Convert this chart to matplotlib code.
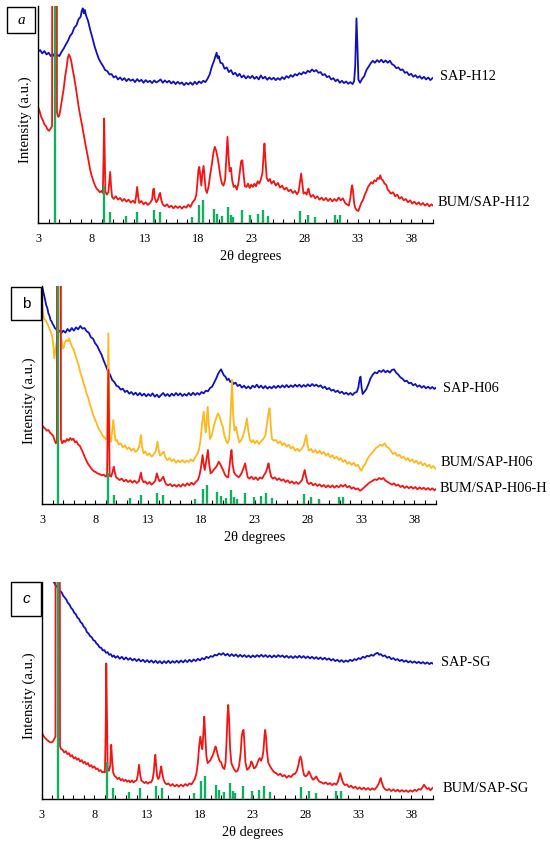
import matplotlib
matplotlib.use("Agg")
import matplotlib.pyplot as plt
from matplotlib.patches import Rectangle
from matplotlib.ticker import MultipleLocator

W, H = 550, 843
OFF = 3000  # off-scale (clipped) peak value

# ---------------- Panel a : (2theta, intensity) ----------------
a_sap = [(3.0,513),(3.2,518),(3.4,508),(3.6,515),(3.8,505),(4.0,510),(4.2,500),(4.4,506),(4.6,496),(4.8,504),(5.0,500),
(5.2,512),(5.4,522),(5.6,534),(5.8,545),(6.0,560),(6.2,568),(6.4,585),(6.6,592),(6.8,610),(7.0,618),(7.1,635),(7.2,643),
(7.3,628),(7.4,638),(7.5,622),(7.7,605),(7.9,578),(8.1,555),(8.3,530),(8.5,510),(8.7,492),(8.9,480),(9.1,470),(9.3,458),
(9.5,455),(9.7,445),(9.9,446),(10.1,436),(10.3,440),(10.5,430),(10.7,436),(10.9,428),(11.1,434),(11.3,425),(11.5,432),
(11.7,426),(11.9,430),(12.1,422),(12.3,431),(12.5,424),(12.7,429),(12.9,420),(13.1,428),(13.3,422),(13.5,426),(13.7,419),
(13.9,427),(14.1,421),(14.3,425),(14.5,430),(14.7,420),(14.9,427),(15.1,421),(15.3,426),(15.5,418),(15.7,424),(15.9,416),
(16.1,423),(16.3,417),(16.5,421),(16.7,413),(16.9,420),(17.1,415),(17.3,421),(17.5,414),(17.7,423),(17.9,416),(18.1,424),
(18.3,419),(18.5,426),(18.7,422),(18.9,432),(19.1,445),(19.3,468),(19.5,485),(19.65,500),(19.75,510),(19.85,494),(19.95,500),
(20.1,480),(20.3,478),(20.5,462),(20.7,466),(20.9,452),(21.1,458),(21.3,445),(21.5,450),(21.7,440),(21.9,447),(22.1,436),
(22.3,442),(22.5,433),(22.7,440),(22.9,434),(23.1,441),(23.3,432),(23.5,438),(23.7,430),(23.9,442),(24.1,433),(24.3,438),
(24.5,429),(24.7,436),(24.9,430),(25.1,435),(25.3,428),(25.5,434),(25.7,429),(25.9,437),(26.1,431),(26.3,440),(26.5,435),
(26.7,443),(26.9,438),(27.1,446),(27.3,442),(27.5,449),(27.7,445),(27.9,452),(28.1,448),(28.3,456),(28.5,452),(28.7,460),
(28.9,454),(29.1,458),(29.3,450),(29.5,452),(29.7,443),(29.9,446),(30.1,437),(30.3,440),(30.5,430),(30.7,434),(30.9,425),
(31.1,430),(31.3,420),(31.5,426),(31.7,419),(31.9,424),(32.1,417),(32.3,422),(32.5,416),(32.65,425),(32.75,470),(32.87,613),
(32.97,520),(33.05,430),(33.2,420),(33.4,432),(33.6,440),(33.8,458),(34.0,468),(34.2,478),(34.4,486),(34.6,480),(34.8,488),
(35.0,482),(35.2,489),(35.4,481),(35.6,487),(35.8,480),(36.0,486),(36.2,476),(36.4,472),(36.6,464),(36.8,466),(37.0,458),
(37.2,460),(37.4,450),(37.6,452),(37.8,443),(38.0,447),(38.2,438),(38.4,443),(38.6,435),(38.8,440),(39.0,432),(39.2,438),
(39.4,430),(39.6,436),(39.8,428),(40.0,434)]

a_bum = [(3.0,348),(3.15,335),(3.3,318),(3.45,308),(3.6,295),(3.75,290),(3.9,280),(4.05,276),(4.2,284),(4.32,290),(4.38,OFF),
(4.72,OFF),(4.78,330),(4.9,318),(5.0,322),(5.1,340),(5.25,370),(5.4,400),(5.55,440),(5.7,470),(5.8,495),(5.9,505),(6.0,498),
(6.1,488),(6.25,460),(6.4,435),(6.55,405),(6.7,372),(6.85,340),(7.0,315),(7.15,290),(7.3,262),(7.45,235),(7.6,210),(7.75,185),
(7.9,158),(8.05,140),(8.2,125),(8.35,112),(8.5,103),(8.65,98),(8.8,92),(8.95,96),(9.08,90),(9.15,200),(9.2,313),(9.26,200),
(9.32,95),(9.45,85),(9.6,92),(9.7,130),(9.77,153),(9.85,110),(9.95,78),(10.1,72),(10.3,80),(10.5,70),(10.7,75),(10.9,66),
(11.1,72),(11.3,64),(11.5,70),(11.7,61),(11.9,67),(12.1,60),(12.2,80),(12.3,108),(12.4,78),(12.5,60),(12.7,66),(12.9,56),
(13.1,62),(13.3,54),(13.5,60),(13.7,70),(13.8,100),(13.87,103),(13.95,75),(14.1,62),(14.25,70),(14.4,88),(14.46,90),(14.55,70),
(14.7,56),(14.9,50),(15.1,56),(15.3,47),(15.5,52),(15.7,44),(15.9,51),(16.1,45),(16.3,50),(16.5,43),(16.7,50),(16.9,46),
(17.1,55),(17.3,48),(17.5,62),(17.7,70),(17.85,85),(17.95,120),(18.05,160),(18.13,168),(18.22,140),(18.32,112),(18.42,150),
(18.53,171),(18.62,140),(18.72,100),(18.85,90),(19.0,110),(19.15,145),(19.3,175),(19.45,210),(19.58,228),(19.7,218),
(19.82,200),(19.95,175),(20.1,140),(20.25,118),(20.4,112),(20.55,130),(20.65,190),(20.77,258),(20.87,200),(20.97,155),
(21.1,165),(21.2,130),(21.35,108),(21.5,112),(21.65,100),(21.8,120),(21.95,160),(22.05,185),(22.16,188),(22.27,150),
(22.4,110),(22.55,108),(22.7,118),(22.85,105),(23.0,115),(23.15,108),(23.3,118),(23.45,110),(23.6,125),(23.75,118),(23.9,130),
(24.05,150),(24.15,200),(24.24,238),(24.33,190),(24.45,135),(24.6,125),(24.75,132),(24.9,118),(25.1,126),(25.3,112),
(25.5,120),(25.7,106),(25.9,112),(26.1,100),(26.3,106),(26.5,95),(26.7,100),(26.9,90),(27.1,96),(27.3,86),(27.45,95),
(27.58,125),(27.68,148),(27.78,120),(27.9,88),(28.05,92),(28.2,85),(28.3,98),(28.37,103),(28.45,90),(28.6,78),(28.8,84),
(29.0,74),(29.2,80),(29.4,70),(29.6,76),(29.8,68),(30.0,75),(30.2,66),(30.4,73),(30.6,65),(30.8,72),(31.0,66),(31.2,76),
(31.4,68),(31.6,74),(31.8,60),(32.0,55),(32.15,52),(32.3,75),(32.4,105),(32.47,113),(32.55,95),(32.65,60),(32.75,45),
(32.9,38),(33.05,36),(33.2,50),(33.35,62),(33.5,70),(33.65,85),(33.8,95),(33.95,108),(34.1,115),(34.25,122),(34.4,118),
(34.55,128),(34.7,125),(34.85,135),(35.0,132),(35.1,143),(35.2,132),(35.35,128),(35.5,118),(35.65,115),(35.8,100),
(35.95,95),(36.1,88),(36.3,92),(36.5,80),(36.7,85),(36.9,73),(37.1,78),(37.3,68),(37.5,72),(37.7,62),(37.9,68),(38.1,58),
(38.3,64),(38.5,56),(38.7,62),(38.9,54),(39.1,60),(39.3,52),(39.5,58),(39.7,50),(39.9,56),(40.0,53)]

# ---------------- Panel b ----------------
b_sap = [(3.0,654),(3.1,640),(3.2,625),(3.3,612),(3.4,596),(3.5,588),(3.6,572),(3.7,565),(3.8,552),(3.9,548),(4.0,540),
(4.1,536),(4.2,528),(4.35,524),(4.5,515),(4.65,520),(4.8,512),(5.0,520),(5.2,514),(5.4,525),(5.6,518),(5.8,528),(6.0,520),
(6.2,530),(6.4,524),(6.6,534),(6.8,526),(7.0,528),(7.2,518),(7.4,514),(7.6,500),(7.8,496),(8.0,482),(8.2,474),(8.4,460),
(8.6,448),(8.8,430),(9.0,415),(9.2,398),(9.4,388),(9.6,372),(9.8,366),(10.0,355),(10.2,352),(10.4,343),(10.6,346),
(10.8,336),(11.0,340),(11.2,331),(11.4,336),(11.6,328),(11.8,334),(12.0,326),(12.2,333),(12.4,325),(12.6,331),(12.8,323),
(13.0,330),(13.2,324),(13.4,332),(13.6,322),(13.8,328),(14.0,320),(14.2,327),(14.4,333),(14.6,324),(14.8,330),(15.0,323),
(15.2,331),(15.4,325),(15.6,333),(15.8,326),(16.0,332),(16.2,324),(16.4,330),(16.6,325),(16.8,333),(17.0,326),(17.2,334),
(17.4,327),(17.6,333),(17.8,328),(18.0,336),(18.2,332),(18.4,340),(18.6,338),(18.8,348),(19.0,352),(19.2,365),(19.4,378),
(19.55,390),(19.7,398),(19.84,404),(19.95,396),(20.1,386),(20.25,382),(20.4,372),(20.55,376),(20.7,366),(20.85,370),
(21.0,360),(21.2,364),(21.4,354),(21.6,358),(21.8,349),(22.0,355),(22.2,347),(22.4,353),(22.6,346),(22.8,355),(23.0,350),
(23.2,358),(23.4,349),(23.6,355),(23.8,347),(24.0,354),(24.2,346),(24.4,352),(24.6,347),(24.8,354),(25.0,348),(25.2,355),
(25.4,349),(25.6,356),(25.8,350),(26.0,357),(26.2,350),(26.4,356),(26.6,351),(26.8,358),(27.0,352),(27.2,358),(27.4,351),
(27.6,357),(27.8,352),(28.0,359),(28.2,353),(28.4,360),(28.6,354),(28.8,358),(29.0,352),(29.2,356),(29.4,348),(29.6,352),
(29.8,344),(30.0,348),(30.2,340),(30.4,343),(30.6,336),(30.8,340),(31.0,333),(31.2,337),(31.4,330),(31.6,334),(31.8,328),
(32.0,333),(32.2,327),(32.4,334),(32.6,336),(32.75,350),(32.85,372),(32.95,382),(33.05,350),(33.15,330),(33.3,336),
(33.5,345),(33.7,360),(33.9,378),(34.1,388),(34.3,395),(34.5,392),(34.7,400),(34.9,396),(35.1,402),(35.3,395),(35.5,400),
(35.7,394),(35.9,402),(36.1,404),(36.3,394),(36.5,388),(36.7,380),(36.9,376),(37.1,368),(37.3,370),(37.5,362),(37.7,364),
(37.9,356),(38.1,360),(38.3,352),(38.5,356),(38.7,349),(38.9,354),(39.1,347),(39.3,352),(39.5,346),(39.7,351),(39.9,345),
(40.0,348)]

b_bum = [(3.0,602),(3.1,570),(3.2,557),(3.35,550),(3.5,542),(3.65,530),(3.8,518),(3.95,505),(4.05,480),(4.16,437),(4.3,470),
(4.42,490),(4.47,OFF),(4.7,OFF),(4.75,500),(4.85,490),(4.95,467),(5.05,470),(5.15,485),(5.3,492),(5.45,488),(5.55,497),
(5.7,482),(5.85,470),(6.0,462),(6.15,445),(6.3,430),(6.45,415),(6.6,395),(6.75,380),(6.9,362),(7.05,350),(7.2,330),
(7.35,318),(7.5,300),(7.65,285),(7.8,268),(7.95,256),(8.1,245),(8.25,232),(8.4,222),(8.55,215),(8.7,205),(8.85,200),
(9.0,194),(9.12,200),(9.18,350),(9.24,512),(9.3,350),(9.36,190),(9.5,187),(9.6,220),(9.7,252),(9.8,220),(9.9,190),
(10.05,192),(10.2,178),(10.4,182),(10.6,170),(10.8,176),(11.0,165),(11.2,170),(11.4,160),(11.6,166),(11.8,156),(12.0,162),
(12.15,175),(12.3,207),(12.42,170),(12.55,152),(12.7,158),(12.9,146),(13.1,152),(13.3,142),(13.5,148),(13.7,160),
(13.86,187),(13.98,160),(14.1,145),(14.25,150),(14.45,157),(14.6,140),(14.8,132),(15.0,138),(15.2,128),(15.4,134),
(15.6,124),(15.8,131),(16.0,125),(16.2,132),(16.4,124),(16.6,130),(16.8,126),(17.0,134),(17.2,128),(17.4,140),(17.6,150),
(17.75,162),(17.9,190),(18.05,240),(18.2,277),(18.3,240),(18.4,215),(18.5,260),(18.58,292),(18.68,240),(18.8,195),
(18.95,205),(19.1,225),(19.25,245),(19.4,260),(19.55,272),(19.7,262),(19.85,245),(20.0,232),(20.15,205),(20.3,190),
(20.45,182),(20.6,195),(20.75,280),(20.87,372),(20.97,270),(21.1,220),(21.25,232),(21.4,205),(21.55,185),(21.7,190),
(21.85,200),(22.0,215),(22.15,235),(22.27,257),(22.4,220),(22.55,192),(22.7,185),(22.85,192),(23.0,182),(23.2,190),
(23.4,180),(23.6,188),(23.8,195),(24.0,205),(24.15,240),(24.28,270),(24.4,287),(24.5,240),(24.62,195),(24.8,190),
(25.0,192),(25.2,182),(25.4,188),(25.6,176),(25.8,183),(26.0,172),(26.2,178),(26.4,166),(26.6,172),(26.8,160),(27.0,166),
(27.2,158),(27.4,165),(27.6,175),(27.75,195),(27.85,207),(27.95,180),(28.1,160),(28.3,165),(28.5,155),(28.7,162),
(28.9,152),(29.1,160),(29.3,150),(29.5,156),(29.7,145),(29.9,152),(30.1,140),(30.3,147),(30.5,136),(30.7,142),(30.9,132),
(31.1,138),(31.3,126),(31.5,132),(31.7,120),(31.9,126),(32.1,117),(32.3,124),(32.5,114),(32.7,118),(32.9,105),(33.05,100),
(33.2,112),(33.4,120),(33.6,135),(33.8,145),(34.0,152),(34.2,160),(34.4,168),(34.6,172),(34.8,178),(35.0,174),(35.2,182),
(35.4,172),(35.6,168),(35.8,160),(36.0,150),(36.2,154),(36.4,144),(36.6,148),(36.8,138),(37.0,142),(37.2,132),(37.4,138),
(37.6,128),(37.8,134),(38.0,124),(38.2,130),(38.4,120),(38.6,126),(38.8,116),(39.0,122),(39.2,112),(39.4,118),(39.6,108),
(39.8,114),(40.0,106)]

b_bumh = [(3.0,237),(3.15,230),(3.3,226),(3.45,220),(3.6,222),(3.75,214),(3.9,210),(4.05,204),(4.2,190),(4.3,182),(4.4,190),
(4.45,OFF),(4.72,OFF),(4.78,195),(4.9,182),(5.05,190),(5.2,186),(5.35,195),(5.5,190),(5.65,198),(5.8,192),(5.95,196),
(6.1,185),(6.25,188),(6.4,178),(6.55,175),(6.7,165),(6.85,155),(7.0,142),(7.15,132),(7.3,122),(7.45,115),(7.6,108),
(7.75,102),(7.9,98),(8.05,96),(8.2,92),(8.4,90),(8.6,86),(8.8,88),(9.0,82),(9.12,90),(9.18,250),(9.24,402),(9.3,250),
(9.36,85),(9.5,82),(9.62,95),(9.75,112),(9.85,95),(9.97,80),(10.1,77),(10.3,72),(10.5,76),(10.7,68),(10.9,73),(11.1,66),
(11.3,71),(11.5,64),(11.7,70),(11.9,63),(12.1,68),(12.2,80),(12.3,94),(12.4,75),(12.55,65),(12.7,68),(12.9,60),(13.1,66),
(13.3,58),(13.5,64),(13.65,70),(13.8,92),(13.92,78),(14.05,68),(14.2,72),(14.4,82),(14.52,70),(14.65,60),(14.85,56),
(15.05,60),(15.25,53),(15.45,58),(15.65,52),(15.85,58),(16.05,52),(16.25,60),(16.45,54),(16.65,62),(16.85,56),(17.05,64),
(17.25,58),(17.45,66),(17.65,72),(17.8,85),(17.95,110),(18.1,147),(18.2,120),(18.3,102),(18.45,130),(18.6,162),(18.72,120),
(18.85,92),(19.0,96),(19.2,105),(19.35,110),(19.5,118),(19.62,127),(19.75,120),(19.9,110),(20.05,100),(20.2,88),(20.35,82),
(20.5,80),(20.62,110),(20.75,150),(20.82,162),(20.92,120),(21.05,95),(21.2,88),(21.35,84),(21.5,80),(21.65,86),(21.8,95),
(21.95,108),(22.1,122),(22.22,100),(22.35,80),(22.5,76),(22.7,82),(22.9,74),(23.1,80),(23.3,72),(23.5,80),(23.7,76),
(23.9,88),(24.05,95),(24.2,110),(24.3,122),(24.42,100),(24.55,82),(24.7,76),(24.9,80),(25.1,72),(25.3,77),(25.5,70),
(25.7,74),(25.9,66),(26.1,71),(26.3,63),(26.5,68),(26.7,61),(26.9,66),(27.1,60),(27.3,66),(27.45,72),(27.6,90),(27.7,102),
(27.8,85),(27.95,65),(28.1,60),(28.3,64),(28.5,56),(28.7,61),(28.9,54),(29.1,59),(29.3,52),(29.5,57),(29.7,50),(29.9,56),
(30.1,50),(30.3,56),(30.5,49),(30.7,55),(30.9,50),(31.1,57),(31.3,52),(31.5,58),(31.7,50),(31.9,54),(32.1,46),(32.3,50),
(32.5,44),(32.7,47),(32.9,40),(33.1,44),(33.3,50),(33.5,56),(33.7,62),(33.9,66),(34.1,70),(34.3,74),(34.5,72),(34.7,78),
(34.9,74),(35.1,78),(35.3,70),(35.5,66),(35.7,62),(35.9,58),(36.1,62),(36.3,55),(36.5,58),(36.7,51),(36.9,55),(37.1,48),
(37.3,53),(37.5,47),(37.7,52),(37.9,46),(38.1,51),(38.3,44),(38.5,50),(38.7,45),(38.9,49),(39.1,43),(39.3,48),(39.5,42),
(39.7,47),(39.9,41),(40.0,44)]

# ---------------- Panel c ----------------
c_sap = [(4.17,653),(4.25,648),(4.35,642),(4.45,640),(4.6,632),(4.75,626),(4.9,622),(5.05,612),(5.2,606),(5.35,600),(5.5,590),
(5.65,585),(5.8,575),(5.95,570),(6.1,560),(6.25,556),(6.4,546),(6.55,542),(6.7,532),(6.85,528),(7.0,518),(7.15,514),
(7.3,502),(7.45,498),(7.6,490),(7.75,487),(7.9,478),(8.05,476),(8.2,468),(8.35,464),(8.5,456),(8.65,455),(8.8,447),
(8.95,448),(9.1,440),(9.25,442),(9.4,434),(9.55,436),(9.7,428),(9.85,432),(10.0,425),(10.2,430),(10.4,422),(10.6,428),
(10.8,420),(11.0,426),(11.2,419),(11.4,424),(11.6,417),(11.8,422),(12.0,415),(12.2,421),(12.4,414),(12.6,419),(12.8,412),
(13.0,418),(13.2,411),(13.4,417),(13.6,410),(13.8,416),(14.0,409),(14.2,415),(14.4,408),(14.6,415),(14.8,409),(15.0,416),
(15.2,409),(15.4,415),(15.6,410),(15.8,416),(16.0,410),(16.2,417),(16.4,411),(16.6,418),(16.8,412),(17.0,419),(17.2,413),
(17.4,420),(17.6,415),(17.8,422),(18.0,417),(18.2,424),(18.4,420),(18.6,428),(18.8,424),(19.0,430),(19.2,428),(19.4,434),
(19.6,432),(19.8,438),(20.0,434),(20.2,439),(20.4,432),(20.6,437),(20.8,430),(21.0,436),(21.2,430),(21.4,435),(21.6,428),
(21.8,434),(22.0,428),(22.2,433),(22.4,427),(22.6,432),(22.8,426),(23.0,432),(23.2,427),(23.4,433),(23.6,428),(23.8,434),
(24.0,428),(24.2,433),(24.4,427),(24.6,432),(24.8,426),(25.0,432),(25.2,427),(25.4,433),(25.6,428),(25.8,432),(26.0,426),
(26.2,431),(26.4,425),(26.6,430),(26.8,424),(27.0,430),(27.2,425),(27.4,431),(27.6,425),(27.8,430),(28.0,424),(28.2,429),
(28.4,423),(28.6,428),(28.8,422),(29.0,427),(29.2,421),(29.4,426),(29.6,420),(29.8,425),(30.0,419),(30.2,423),(30.4,417),
(30.6,421),(30.8,415),(31.0,419),(31.2,413),(31.4,418),(31.6,412),(31.8,417),(32.0,413),(32.2,419),(32.4,415),(32.6,421),
(32.8,418),(33.0,424),(33.2,421),(33.4,428),(33.6,425),(33.8,431),(34.0,429),(34.2,434),(34.4,431),(34.6,437),(34.8,440),
(34.95,434),(35.1,436),(35.3,430),(35.5,432),(35.7,425),(35.9,428),(36.1,421),(36.3,424),(36.5,418),(36.7,421),(36.9,415),
(37.1,419),(37.3,413),(37.5,417),(37.7,411),(37.9,415),(38.1,410),(38.3,414),(38.5,409),(38.7,413),(38.9,408),(39.1,412),
(39.3,407),(39.5,411),(39.7,406),(39.9,410),(40.0,408)]

c_bum = [(3.0,203),(3.15,192),(3.3,185),(3.45,180),(3.6,176),(3.75,172),(3.9,170),(4.05,172),(4.2,180),(4.32,188),(4.38,OFF),
(4.68,OFF),(4.75,160),(4.85,150),(5.0,148),(5.15,140),(5.3,144),(5.45,135),(5.6,138),(5.75,128),(5.9,132),(6.05,122),
(6.2,126),(6.35,118),(6.5,122),(6.65,113),(6.8,117),(6.95,108),(7.1,112),(7.25,104),(7.4,108),(7.55,98),(7.7,102),(7.85,94),
(8.0,98),(8.15,90),(8.3,92),(8.45,84),(8.6,87),(8.75,80),(8.9,82),(9.0,80),(9.07,200),(9.13,408),(9.19,250),(9.26,88),
(9.38,85),(9.5,100),(9.6,163),(9.68,120),(9.78,80),(9.9,70),(10.05,66),(10.2,60),(10.35,64),(10.5,56),(10.65,60),(10.8,54),
(10.95,58),(11.1,52),(11.25,56),(11.4,50),(11.55,56),(11.7,50),(11.85,54),(12.0,56),(12.1,70),(12.23,103),(12.33,75),
(12.45,55),(12.6,52),(12.75,48),(12.9,52),(13.05,46),(13.2,50),(13.35,50),(13.5,58),(13.62,80),(13.72,120),(13.77,133),
(13.85,100),(13.95,68),(14.05,60),(14.15,66),(14.25,85),(14.33,98),(14.42,78),(14.55,58),(14.7,48),(14.85,44),(15.0,47),
(15.2,40),(15.4,45),(15.6,38),(15.8,43),(16.0,37),(16.2,43),(16.4,38),(16.6,45),(16.8,40),(17.0,47),(17.2,44),(17.35,52),
(17.5,60),(17.65,75),(17.8,110),(17.92,160),(18.03,188),(18.12,165),(18.22,150),(18.32,200),(18.4,248),(18.5,190),(18.6,130),
(18.72,108),(18.85,112),(19.0,118),(19.15,128),(19.3,140),(19.4,152),(19.47,158),(19.55,150),(19.7,130),(19.85,115),
(20.0,110),(20.15,95),(20.3,90),(20.42,110),(20.52,180),(20.6,250),(20.67,283),(20.75,240),(20.85,150),(20.97,108),
(21.1,98),(21.25,88),(21.4,82),(21.55,85),(21.7,100),(21.85,140),(21.95,190),(22.05,205),(22.12,208),(22.2,170),(22.3,110),
(22.45,88),(22.6,92),(22.75,100),(22.85,113),(22.95,108),(23.1,92),(23.25,95),(23.4,105),(23.55,118),(23.65,123),
(23.78,115),(23.9,125),(24.0,145),(24.1,190),(24.17,208),(24.25,185),(24.35,140),(24.45,110),(24.6,100),(24.75,92),
(24.9,85),(25.05,80),(25.2,78),(25.4,72),(25.6,76),(25.8,68),(26.0,72),(26.2,64),(26.4,70),(26.6,66),(26.8,74),(27.0,76),
(27.15,84),(27.3,100),(27.4,118),(27.5,128),(27.6,118),(27.72,90),(27.85,72),(28.0,68),(28.15,72),(28.3,83),(28.42,76),
(28.55,65),(28.7,58),(28.85,62),(29.0,68),(29.12,60),(29.3,52),(29.5,50),(29.7,46),(29.9,50),(30.1,44),(30.3,48),(30.5,42),
(30.7,47),(30.9,43),(31.05,52),(31.15,65),(31.27,78),(31.4,62),(31.55,48),(31.7,42),(31.9,44),(32.1,36),(32.3,40),(32.5,33),
(32.7,37),(32.9,30),(33.1,35),(33.3,29),(33.5,34),(33.7,28),(33.9,33),(34.1,27),(34.3,32),(34.5,28),(34.7,35),(34.9,45),
(35.0,55),(35.1,63),(35.2,50),(35.35,36),(35.5,30),(35.7,26),(35.9,30),(36.1,24),(36.3,29),(36.5,23),(36.7,28),(36.9,22),
(37.1,27),(37.3,22),(37.5,26),(37.7,21),(37.9,26),(38.1,22),(38.3,28),(38.5,24),(38.7,30),(38.9,28),(39.05,35),(39.2,43),
(39.35,36),(39.5,30),(39.65,33),(39.8,26),(40.0,33)]

# ---------------- Reference sticks (same in all panels) ----------------
stick_x = [4.55, 9.2, 9.77, 11.3, 12.3, 13.85, 14.4, 17.4, 18.1, 18.5, 19.5, 19.8, 20.3, 20.8, 21.1, 21.3,
           22.1, 22.9, 23.6, 24.1, 24.6, 27.6, 28.3, 29.0, 30.9, 31.3]
stick_h = [OFF, 110, 33, 20, 33, 40, 33, 18, 53, 68, 43, 28, 20, 48, 23, 18,
           40, 23, 28, 38, 20, 36, 23, 18, 23, 25]

series_names_a = ["SAP-H12", "BUM/SAP-H12"]
series_names_b = ["SAP-H06", "BUM/SAP-H06", "BUM/SAP-H06-H"]
series_names_c = ["SAP-SG", "BUM/SAP-SG"]
xticks = [3, 8, 13, 18, 23, 28, 33, 38]

BLUE = "#1010C0"
RED = "#F51414"
ORANGE = "#FFB81C"
GREEN = "#10B060"
LW = 1.3

plt.rcParams['font.family'] = ['Liberation Serif', 'DejaVu Serif']
fig = plt.figure(figsize=(W / 100, H / 100), dpi=100)


def xy(pairs):
    return [p[0] for p in pairs], [p[1] for p in pairs]


def ax_px(left, right, top, bottom):
    return fig.add_axes([left / W, 1 - bottom / H, (right - left) / W, (bottom - top) / H])


def setup(ax, ymax):
    ax.set_xlim(3, 40)
    ax.set_ylim(0, ymax)
    for s in ("top", "right"):
        ax.spines[s].set_visible(False)
    for s in ("left", "bottom"):
        ax.spines[s].set_linewidth(1.0)
        ax.spines[s].set_color("black")
    ax.set_yticks([])
    ax.set_xticks(xticks)
    ax.xaxis.set_minor_locator(MultipleLocator(1))
    ax.tick_params(axis="x", which="both", direction="in", length=3, width=0.8, labelsize=8.8, pad=7)
    ax.set_ylabel("Intensity (a.u.)", fontsize=10.6)
    ax.yaxis.set_label_coords(-0.014, 0.475)
    ax.set_xlabel("2θ degrees", fontsize=10.4)
    ax.xaxis.set_label_coords(0.54, -0.125)
    ax.patch.set_alpha(0)


def curve(ax, pairs, color):
    x, y = xy(pairs)
    ax.plot(x, y, color=color, lw=LW)


def sticks(ax, scale):
    ax.vlines(stick_x, 0, [h * scale for h in stick_h], colors=GREEN, linewidth=1.7, zorder=5)


def box(x0, y0, x1, y1, label, **kw):
    fig.patches.append(Rectangle((x0 / W, 1 - y1 / H), (x1 - x0) / W, (y1 - y0) / H,
                                 transform=fig.transFigure, fill=True, facecolor="white",
                                 edgecolor="black", linewidth=1.0, zorder=10))
    fig.text((x0 + x1) / 2 / W, 1 - (y0 + y1) / 2 / H, label, ha="center", va="center",
             fontsize=11, zorder=11, **kw)


def label(x, y, text):
    fig.text(x / W, 1 - y / H, text, ha="left", va="center", fontsize=10.4)


# Panel a
ax1 = ax_px(38, 432.5, 6, 223)
setup(ax1, 650)
curve(ax1, a_sap, BLUE)
curve(ax1, a_bum, RED)
sticks(ax1, 1.0)
label(440, 77, series_names_a[0])
label(438, 203, series_names_a[1])
box(7, 7, 35, 33, "a", style="italic")

# Panel b
ax2 = ax_px(42, 435.5, 286, 504)
setup(ax2, 654)
curve(ax2, b_sap, BLUE)
curve(ax2, b_bum, ORANGE)
curve(ax2, b_bumh, RED)
sticks(ax2, 0.85)
label(443, 388, series_names_b[0])
label(441, 463, series_names_b[1])
label(440, 488, series_names_b[2])
box(11, 287, 41, 320, "b", family="Liberation Sans")

# Panel c
ax3 = ax_px(41.5, 432.5, 582, 799)
setup(ax3, 653)
curve(ax3, c_sap, BLUE)
curve(ax3, c_bum, RED)
sticks(ax3, 1.0)
label(441, 663, series_names_c[0])
label(443, 789, series_names_c[1])
box(11, 582, 41, 616, "c", family="Liberation Sans", style="italic")

fig.savefig("out.png", dpi=100)
